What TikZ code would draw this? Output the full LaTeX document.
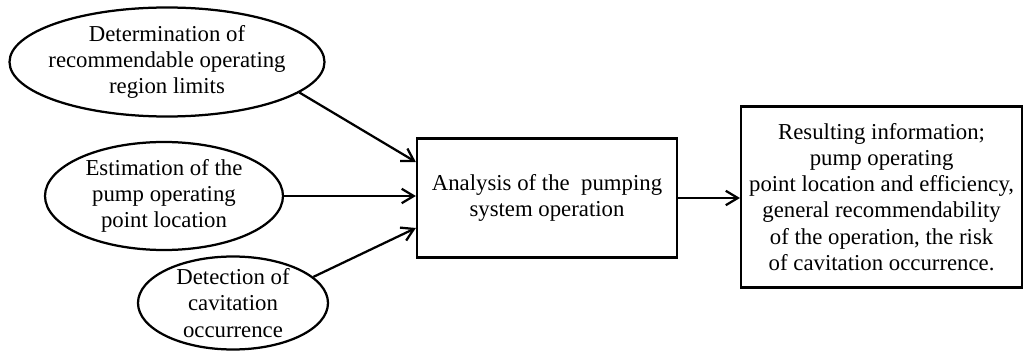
\documentclass[tikz,border=0pt]{standalone}
\usepackage{fontspec}
\setmainfont{Liberation Serif}
\usetikzlibrary{shapes.geometric,arrows.meta}
\begin{document}
\begin{tikzpicture}[>={Straight Barb[length=3mm,width=3.6mm]}, line width=1.6pt,
    oval/.style={draw, ellipse, inner sep=-0.3cm, align=center,
        font=\fontsize{16.2}{18.6}\selectfont},
    block/.style={draw, rectangle, inner sep=0pt, align=center,
        font=\fontsize{16.2}{18.6}\selectfont}]
    \useasboundingbox (0,0) rectangle (25.6,8.8);
    % Các khối đầu vào
    \node[oval, minimum width=7.875cm, minimum height=2.725cm] (det) at (4.175,7.25)
        {Determination of\\recommendable operating\\region limits};
    \node[oval, minimum width=5.95cm, minimum height=2.7cm] (est) at (4.1,3.9)
        {Estimation of the\\pump operating\\point location};
    \node[oval, minimum width=4.75cm, minimum height=2.325cm] (cav) at (5.825,1.225)
        {Detection of\\cavitation\\occurrence};
    % Phân tích và kết quả
    \node[block, minimum width=6.5cm, minimum height=2.975cm] (ana) at (13.675,3.85)
        {Analysis of the\ \ pumping\\system operation};
    \node[block, minimum width=7.025cm, minimum height=4.525cm] (res) at (22.04,3.875)
        {Resulting information;\\pump operating\\point location and efficiency,\\general recommendability\\of the operation, the risk\\of cavitation occurrence.};
    % Mũi tên
    \draw[->] (det.-13) -- ([yshift=0.9cm]ana.west);
    \draw[->] (est) -- (est -| ana.west);
    \draw[->] (cav.18) -- ([yshift=-0.75cm]ana.west);
    \draw[->] (ana) -- (ana -| res.west);
\end{tikzpicture}
\end{document}
